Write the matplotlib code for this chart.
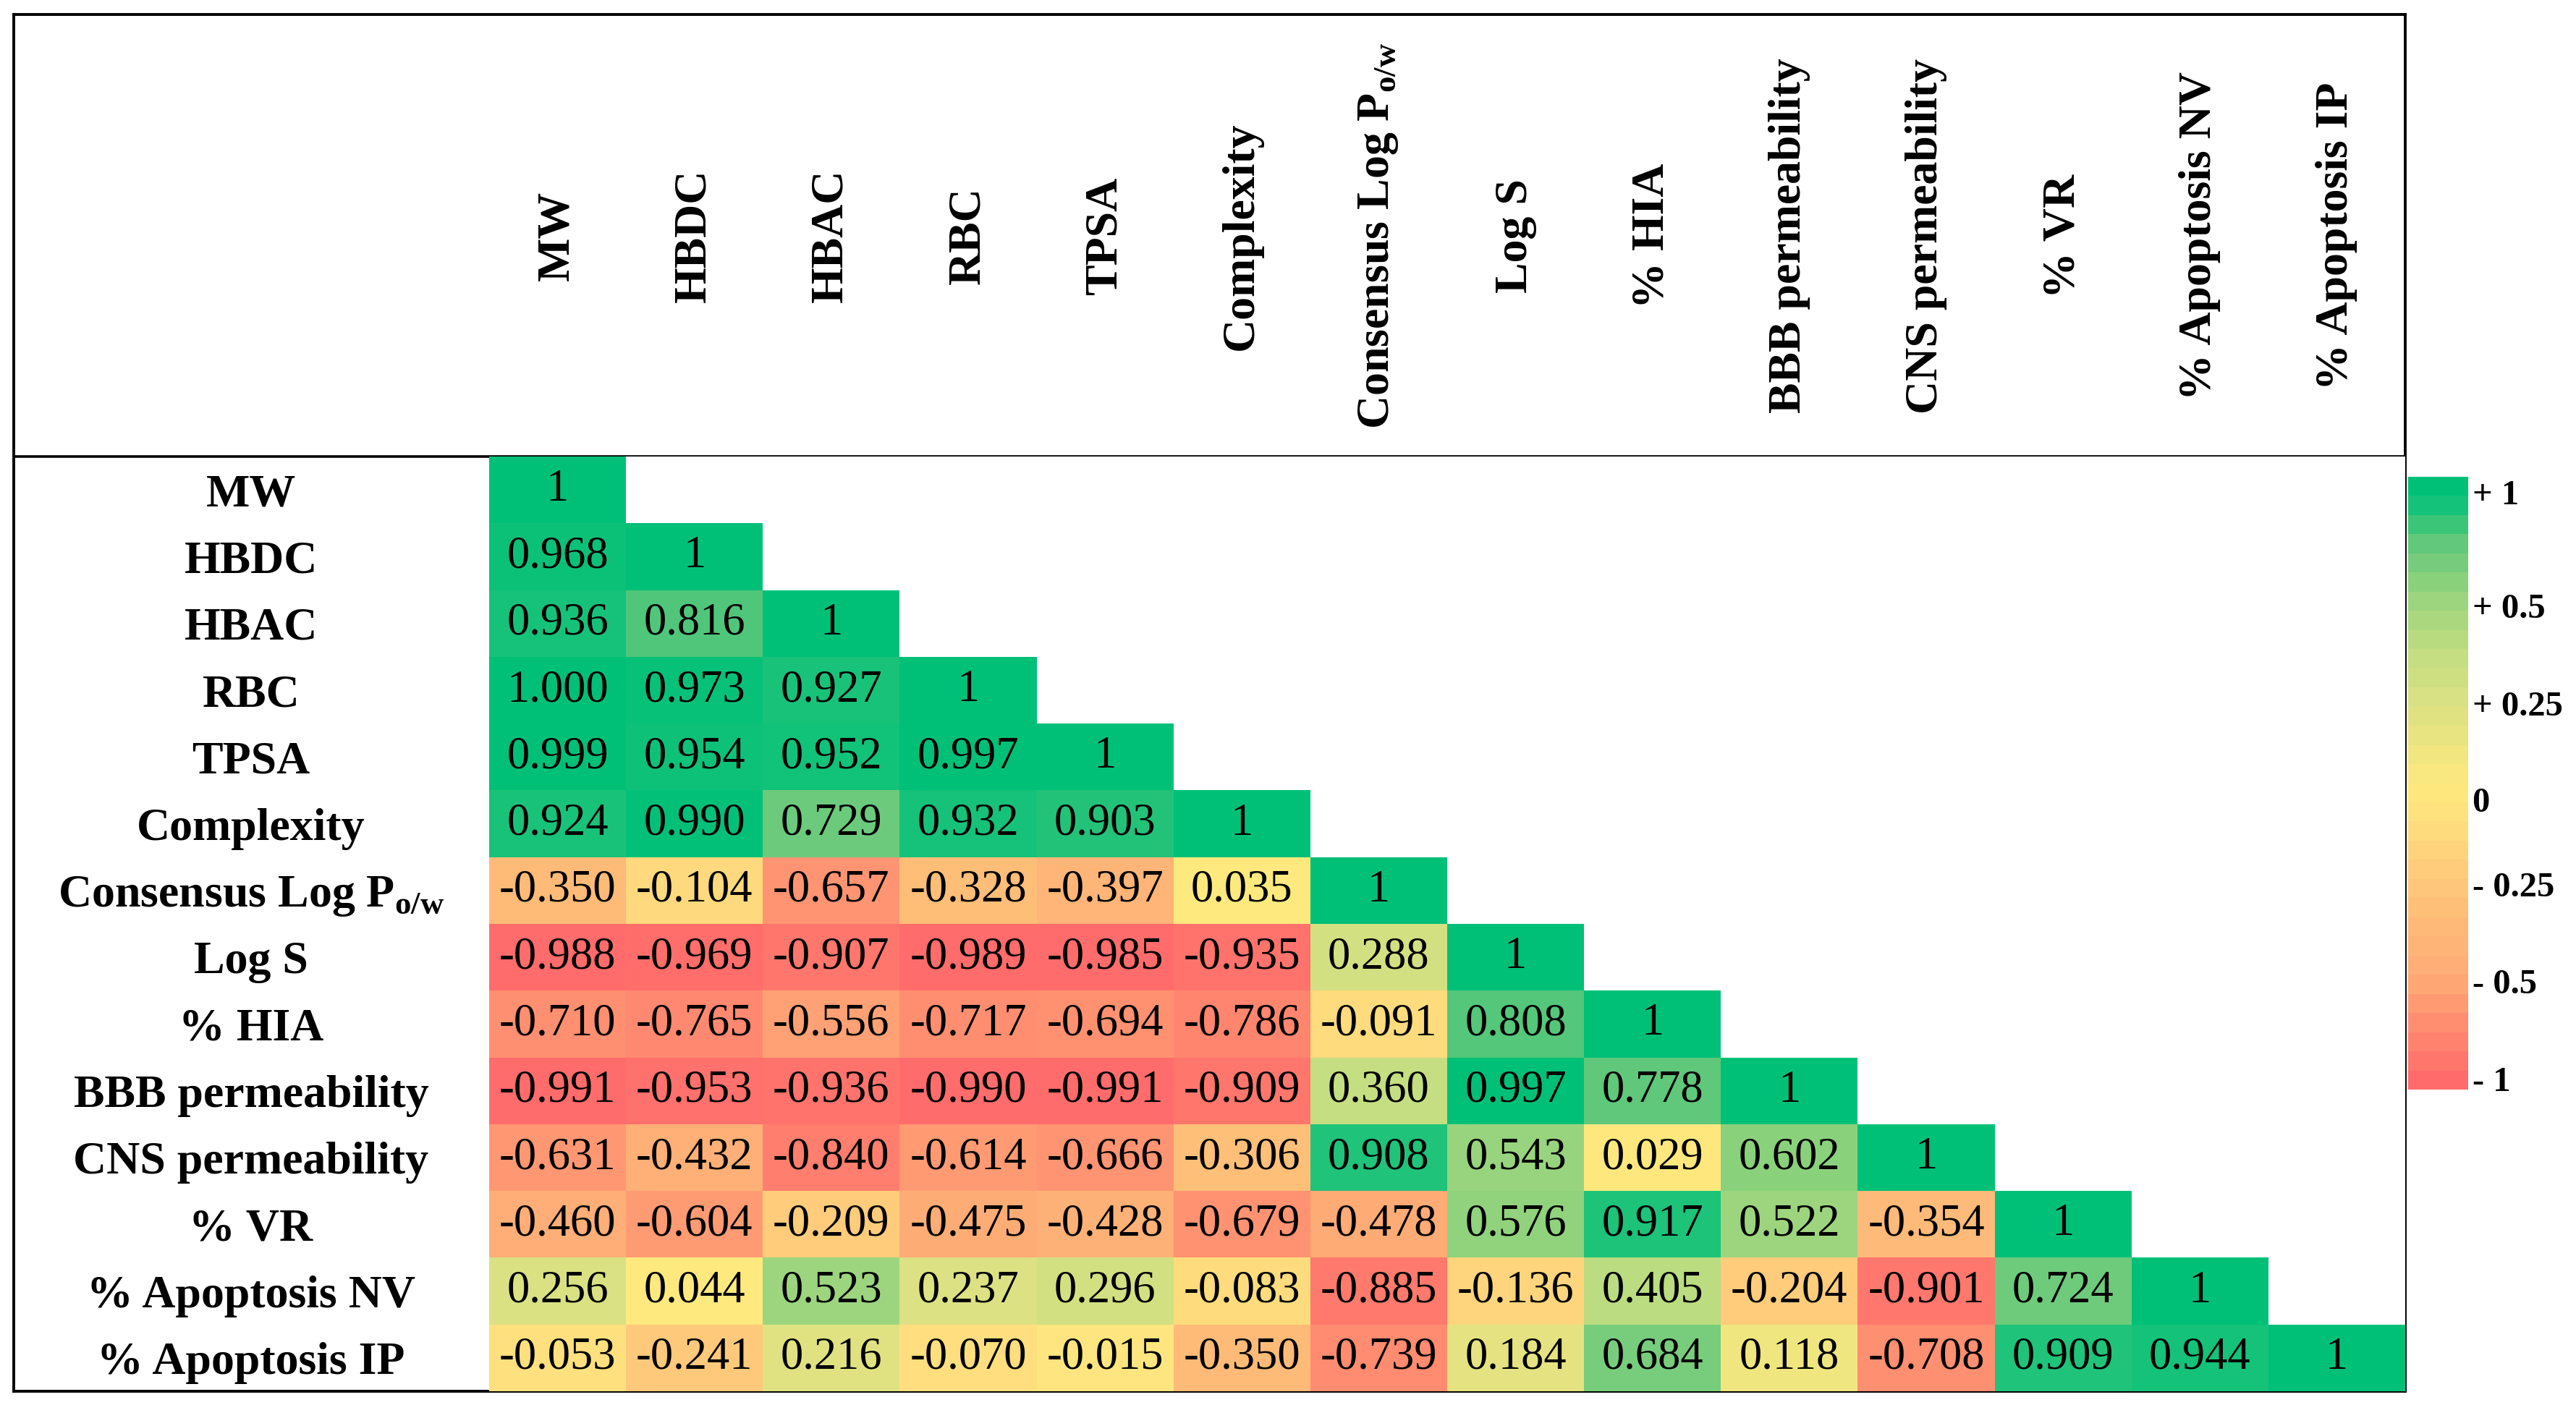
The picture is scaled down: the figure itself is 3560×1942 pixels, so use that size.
import numpy as np
import matplotlib
matplotlib.use("Agg")
import matplotlib.pyplot as plt
from matplotlib.colors import LinearSegmentedColormap

plt.rcParams['font.family'] = ['Liberation Serif', 'DejaVu Serif']
plt.rcParams['mathtext.fontset'] = 'custom'
plt.rcParams['mathtext.rm'] = 'Liberation Serif'
plt.rcParams['mathtext.bf'] = 'Liberation Serif:bold'

# variables (rows and columns share the same order)
labels = ['MW', 'HBDC', 'HBAC', 'RBC', 'TPSA', 'Complexity',
          'Consensus Log P$_{\\mathbf{o/w}}$', 'Log S', '% HIA',
          'BBB permeability', 'CNS permeability', '% VR',
          '% Apoptosis NV', '% Apoptosis IP']

# lower triangle of the correlation matrix, one list per row
r_mw = [1]
r_hbdc = [0.968, 1]
r_hbac = [0.936, 0.816, 1]
r_rbc = [1.000, 0.973, 0.927, 1]
r_tpsa = [0.999, 0.954, 0.952, 0.997, 1]
r_complexity = [0.924, 0.990, 0.729, 0.932, 0.903, 1]
r_logp = [-0.350, -0.104, -0.657, -0.328, -0.397, 0.035, 1]
r_logs = [-0.988, -0.969, -0.907, -0.989, -0.985, -0.935, 0.288, 1]
r_hia = [-0.710, -0.765, -0.556, -0.717, -0.694, -0.786, -0.091, 0.808, 1]
r_bbb = [-0.991, -0.953, -0.936, -0.990, -0.991, -0.909, 0.360, 0.997, 0.778, 1]
r_cns = [-0.631, -0.432, -0.840, -0.614, -0.666, -0.306, 0.908, 0.543, 0.029, 0.602, 1]
r_vr = [-0.460, -0.604, -0.209, -0.475, -0.428, -0.679, -0.478, 0.576, 0.917, 0.522, -0.354, 1]
r_apo_nv = [0.256, 0.044, 0.523, 0.237, 0.296, -0.083, -0.885, -0.136, 0.405, -0.204, -0.901, 0.724, 1]
r_apo_ip = [-0.053, -0.241, 0.216, -0.070, -0.015, -0.350, -0.739, 0.184, 0.684, 0.118, -0.708, 0.909, 0.944, 1]

rows = [r_mw, r_hbdc, r_hbac, r_rbc, r_tpsa, r_complexity, r_logp, r_logs,
        r_hia, r_bbb, r_cns, r_vr, r_apo_nv, r_apo_ip]

# colour legend ticks (legend is not linear)
cbar_tick_vals = [-1, -0.5, -0.25, 0, 0.25, 0.5, 1]
cbar_tick_text = ['- 1', '- 0.5', '- 0.25', '0', '+ 0.25', '+ 0.5', '+ 1']
cbar_tick_pos = [0.018, 0.177, 0.335, 0.474, 0.631, 0.790, 0.975]

# red - yellow - green scale
nodes = [(-1.0, (255, 107, 107)), (0.0, (254, 230, 127)), (0.035, (254, 233, 126)),
         (0.25, (218, 225, 131)), (0.36, (198, 222, 129)), (0.52, (157, 213, 126)),
         (0.60, (140, 209, 124)), (0.72, (112, 203, 124)), (0.80, (90, 199, 122)),
         (0.91, (32, 195, 121)), (1.0, (0, 192, 120))]
cmap = LinearSegmentedColormap.from_list(
    'rdylgn_xl', [((v + 1) / 2, tuple(c / 255 for c in col)) for v, col in nodes])

n = len(labels)
mat = np.full((n, n), np.nan)
for i, row in enumerate(rows):
    mat[i, :len(row)] = row
masked = np.ma.masked_invalid(mat)

W, H = 3560, 1942
fig = plt.figure(figsize=(W / 100, H / 100), dpi=100)

# outer frame with header separator
frame = fig.add_axes([19 / W, (H - 1923) / H, (3324 - 19) / W, (1923 - 20) / H])
frame.set_xticks([])
frame.set_yticks([])
for s in frame.spines.values():
    s.set_linewidth(2.8)
frame.axhline((1923 - 631) / (1923 - 20), color='black', linewidth=2.6)
frame.patch.set_alpha(0)

# heat map
ax = fig.add_axes([676 / W, (H - 1923) / H, (3324 - 676) / W, (1923 - 631) / H])
ax.pcolormesh(np.arange(n + 1), np.arange(n + 1), masked, cmap=cmap, vmin=-1, vmax=1)
ax.set_xlim(0, n)
ax.set_ylim(n, 0)
for s in ax.spines.values():
    s.set_visible(False)

for i, row in enumerate(rows):
    for j, v in enumerate(row):
        txt = '1' if i == j else '{:.3f}'.format(v)
        ax.text(j + 0.5, i + 0.5, txt, ha='center', va='center', fontsize=45)

ax.set_yticks(np.arange(n) + 0.5)
ax.set_yticklabels(labels, fontsize=46, fontweight='bold', ha='center')
ax.tick_params(axis='y', length=0, pad=(676 - 347) * 0.72)

ax.xaxis.tick_top()
ax.set_xticks(np.arange(n) + 0.5)
ax.set_xticklabels(labels, fontsize=46, fontweight='bold', rotation=90, va='center', ha='center')
ax.tick_params(axis='x', length=0, pad=(631 - 326) * 0.72)

# colour legend
cax = fig.add_axes([3328 / W, (H - 1506) / H, 83 / W, 847 / H])
nb = 32
edges = np.linspace(0, 1, nb + 1)
centers = (edges[:-1] + edges[1:]) / 2
band_vals = np.interp(centers, cbar_tick_pos, cbar_tick_vals)
cax.pcolormesh([0, 1], edges, band_vals.reshape(-1, 1), cmap=cmap, vmin=-1, vmax=1)
cax.set_xlim(0, 1)
cax.set_ylim(0, 1)
cax.set_xticks([])
cax.yaxis.tick_right()
cax.set_yticks(cbar_tick_pos)
cax.set_yticklabels(cbar_tick_text, fontsize=35, fontweight='bold')
cax.tick_params(axis='y', length=0, pad=4)
for s in cax.spines.values():
    s.set_visible(False)

fig.savefig('out.png', dpi=100)
